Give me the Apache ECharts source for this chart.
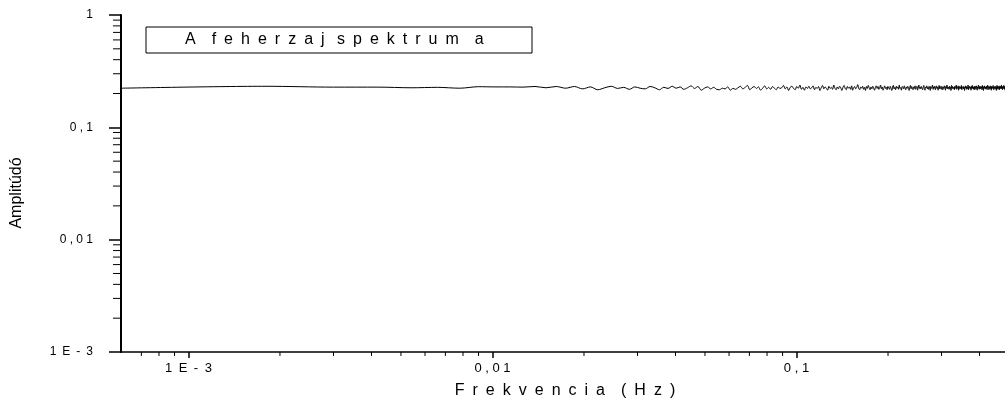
<!DOCTYPE html>
<html>
<head>
<meta charset="utf-8">
<script src="https://cdn.jsdelivr.net/npm/echarts@6/dist/echarts.min.js"></script>
<style>
  html, body { margin: 0; padding: 0; background: #fff; }
  #chart { width: 1005px; height: 407px; }
</style>
</head>
<body>
<div id="chart"></div>
<script>
// Amplitude spectrum of white noise, sampled on a uniform frequency grid.
const FREQ_STEP = 0.0012;   // spectral resolution, Hz (bin centres at (k + 0.5) * step)

const amplitudes = [
  0.223, 0.232, 0.228, 0.228, 0.225, 0.227, 0.223, 0.230, 0.229, 0.229, 0.228, 0.231, 0.225, 0.231,
  0.223, 0.231, 0.220, 0.229, 0.216, 0.225, 0.232, 0.222, 0.227, 0.218, 0.229, 0.223, 0.220, 0.231, 0.225, 0.216, 0.227, 0.222, 0.232, 0.223,
  0.229, 0.218, 0.225, 0.234, 0.222, 0.231, 0.214, 0.223, 0.229, 0.220, 0.227, 0.218, 0.216, 0.223, 0.220, 0.229, 0.214, 0.222, 0.218, 0.225,
  0.232, 0.220, 0.227, 0.236, 0.216, 0.225, 0.231, 0.222, 0.229, 0.214, 0.223, 0.234, 0.220, 0.227, 0.218, 0.231, 0.223, 0.216, 0.229, 0.222,
  0.225, 0.236, 0.220, 0.229, 0.213, 0.227, 0.232, 0.222, 0.216, 0.231, 0.223, 0.238, 0.218, 0.227, 0.214, 0.229, 0.222, 0.232, 0.220, 0.225,
  0.234, 0.216, 0.227, 0.222, 0.231, 0.213, 0.225, 0.236, 0.220, 0.229, 0.223, 0.214, 0.232, 0.222, 0.227, 0.218, 0.238, 0.223, 0.216, 0.229,
  0.220, 0.232, 0.225, 0.213, 0.227, 0.236, 0.222, 0.216, 0.231, 0.223, 0.229, 0.218, 0.234, 0.214, 0.225, 0.231, 0.220, 0.227, 0.240, 0.222,
  0.216, 0.229, 0.223, 0.232, 0.218, 0.227, 0.213, 0.231, 0.222, 0.236, 0.225, 0.216, 0.229, 0.220, 0.232, 0.223, 0.214, 0.227, 0.234, 0.222,
  0.231, 0.218, 0.225, 0.238, 0.220, 0.229, 0.214, 0.223, 0.234, 0.222, 0.227, 0.216, 0.231, 0.225, 0.218, 0.232, 0.223, 0.213, 0.229, 0.236,
  0.220, 0.227, 0.216, 0.232, 0.223, 0.229, 0.218, 0.238, 0.222, 0.225, 0.214, 0.231, 0.227, 0.220, 0.234, 0.223, 0.216, 0.229, 0.222, 0.232,
  0.225, 0.213, 0.227, 0.236, 0.220, 0.231, 0.223, 0.216, 0.229, 0.222, 0.234, 0.218, 0.227, 0.232, 0.214, 0.225, 0.238, 0.222, 0.229, 0.220,
  0.231, 0.223, 0.216, 0.227, 0.236, 0.222, 0.214, 0.229, 0.225, 0.234, 0.220, 0.227, 0.218, 0.232, 0.223, 0.213, 0.231, 0.222, 0.227, 0.238,
  0.218, 0.229, 0.223, 0.232, 0.216, 0.225, 0.234, 0.222, 0.229, 0.214, 0.227, 0.236, 0.220, 0.231, 0.223, 0.218, 0.232, 0.225, 0.216, 0.229,
  0.222, 0.234, 0.227, 0.214, 0.231, 0.223, 0.238, 0.220, 0.225, 0.229, 0.218, 0.232, 0.222, 0.227, 0.213, 0.236, 0.223, 0.231, 0.220, 0.229,
  0.225, 0.216, 0.232, 0.222, 0.229, 0.238, 0.218, 0.227, 0.223, 0.234, 0.214, 0.225, 0.231, 0.220, 0.229, 0.222, 0.236, 0.216, 0.227, 0.223,
  0.232, 0.220, 0.229, 0.213, 0.225, 0.234, 0.223, 0.231, 0.218, 0.227, 0.222, 0.238, 0.216, 0.229, 0.225, 0.232, 0.220, 0.227, 0.214, 0.231,
  0.223, 0.236, 0.222, 0.229, 0.218, 0.227, 0.232, 0.216, 0.225, 0.231, 0.220, 0.234, 0.223, 0.214, 0.229, 0.222, 0.238, 0.227, 0.218, 0.231,
  0.225, 0.220, 0.232, 0.223, 0.229, 0.216, 0.236, 0.222, 0.227, 0.213, 0.231, 0.225, 0.234, 0.220, 0.229, 0.223, 0.218, 0.232, 0.222, 0.227,
  0.238, 0.216, 0.225, 0.231, 0.222, 0.229, 0.218, 0.234, 0.223, 0.227, 0.214, 0.232, 0.220, 0.229, 0.225, 0.236, 0.222, 0.216, 0.231, 0.223,
  0.227, 0.220, 0.232, 0.225, 0.213, 0.229, 0.236, 0.222, 0.231, 0.218, 0.227, 0.223, 0.234, 0.216, 0.229, 0.222, 0.232, 0.225, 0.220, 0.238,
  0.223, 0.229, 0.216, 0.231, 0.222, 0.227, 0.236, 0.220, 0.225, 0.232, 0.214, 0.229, 0.223, 0.234, 0.218, 0.227, 0.222, 0.231, 0.225, 0.220,
  0.232, 0.223, 0.229
];

// Axis ranges
const X_MIN = 0.0006, X_MAX = 0.5;
const Y_MIN = 0.001, Y_MAX = 1;

// Decade labels, indexed by exponent + 3
const xTickLabels = ['1\u2002E\u2002-\u20023', '0 , 0 1', '0 , 1'];
const yTickLabels = ['1\u2002E\u2002-\u20023', '0 , 0 1', '0 , 1', '1'];

// Minor (2..9) tick values on each axis
const xMinorTicks = [0.0007, 0.0008, 0.0009,
  0.002, 0.003, 0.004, 0.005, 0.006, 0.007, 0.008, 0.009,
  0.02, 0.03, 0.04, 0.05, 0.06, 0.07, 0.08, 0.09,
  0.2, 0.3, 0.4];
const yMinorTicks = [0.002, 0.003, 0.004, 0.005, 0.006, 0.007, 0.008, 0.009,
  0.02, 0.03, 0.04, 0.05, 0.06, 0.07, 0.08, 0.09,
  0.2, 0.3, 0.4, 0.5, 0.6, 0.7, 0.8, 0.9];

const seriesName = 'A feherzaj spektruma';
const legendText = 'A\u2002\u2002f\u2002e\u2002h\u2002e\u2002r\u2002z\u2002a\u2002j\u2002 s\u2002p\u2002e\u2002k\u2002t\u2002r\u2002u\u2002m\u2002\u2002a';
const xAxisTitle = 'F\u2002r\u2002e\u2002k\u2002v\u2002e\u2002n\u2002c\u2002i\u2002a\u2002\u2002(\u2002H\u2002z\u2002)';
const yAxisTitle = 'Amplitúdó';

const FONT = '"Liberation Sans", Arial, sans-serif';

const spectrum = amplitudes.map((a, k) => [(k + 0.5) * FREQ_STEP, a]);

function decadeLabel(labels) {
  return function (v) {
    const e = Math.log10(v);
    const r = Math.round(e);
    if (Math.abs(e - r) > 1e-6) return '';
    return labels[r + 3] || '';
  };
}

function minorTickRenderer(dir, len) {
  return function (params, api) {
    const p = api.coord([api.value(0), api.value(1)]);
    const shape = dir === 'x'
      ? { x1: p[0], y1: p[1], x2: p[0], y2: p[1] + len }
      : { x1: p[0], y1: p[1], x2: p[0] - len, y2: p[1] };
    return { type: 'line', shape: shape, style: { stroke: '#000', lineWidth: 1 }, silent: true };
  };
}

const chart = echarts.init(document.getElementById('chart'), null, { renderer: 'canvas' });

chart.setOption({
  animation: false,
  backgroundColor: '#fff',
  textStyle: { fontFamily: FONT, color: '#000' },
  grid: { left: 121, top: 15, width: 888, height: 337, outerBoundsMode: 'none', containLabel: false },
  legend: {
    data: [{ name: seriesName, icon: 'none' }],
    left: 146, top: 27,
    itemWidth: 0, itemHeight: 14, itemGap: 0,
    padding: [5, 7, 5, 34],
    borderColor: '#000', borderWidth: 1,
    selectedMode: false,
    formatter: () => legendText,
    textStyle: { fontFamily: FONT, fontSize: 16, color: '#000', width: 340, lineHeight: 16 }
  },
  xAxis: {
    type: 'log', logBase: 10, min: X_MIN, max: X_MAX,
    name: xAxisTitle, nameLocation: 'middle', nameGap: 31,
    nameTextStyle: { fontFamily: FONT, fontSize: 16, color: '#000' },
    axisLine: { lineStyle: { color: '#000', width: 1.5 } },
    axisTick: { inside: false, length: 6, customValues: [0.001, 0.01, 0.1], lineStyle: { color: '#000', width: 1.5 } },
    axisLabel: { margin: 10, fontFamily: FONT, fontSize: 13, color: '#000', customValues: [0.001, 0.01, 0.1], formatter: decadeLabel(xTickLabels) },
    splitLine: { show: false },
    minorTick: { show: false }
  },
  yAxis: {
    type: 'log', logBase: 10, min: Y_MIN, max: Y_MAX,
    axisLine: { lineStyle: { color: '#000', width: 2 } },
    axisTick: { inside: false, length: 12, customValues: [0.001, 0.01, 0.1, 1], lineStyle: { color: '#000', width: 1.5 } },
    axisLabel: { margin: 28, fontFamily: FONT, fontSize: 12, color: '#000', customValues: [0.001, 0.01, 0.1, 1], formatter: decadeLabel(yTickLabels) },
    splitLine: { show: false },
    minorTick: { show: false }
  },
  graphic: [{
    type: 'text',
    x: 17, y: 193,
    rotation: Math.PI / 2,
    style: { text: yAxisTitle, font: '16px ' + FONT, fill: '#000', align: 'center', verticalAlign: 'middle' },
    silent: true
  }],
  series: [
    {
      name: seriesName,
      type: 'line',
      data: spectrum,
      showSymbol: false,
      smooth: 0.3,
      sampling: null,
      clip: true,
      lineStyle: { color: '#000', width: 1 },
      itemStyle: { color: '#000' },
      silent: true,
      z: 3
    },
    {
      name: 'x minor ticks',
      type: 'custom',
      data: xMinorTicks.map(v => [v, Y_MIN]),
      renderItem: minorTickRenderer('x', 4),
      clip: false,
      silent: true,
      z: 4
    },
    {
      name: 'y minor ticks',
      type: 'custom',
      data: yMinorTicks.map(v => [X_MIN, v]),
      renderItem: minorTickRenderer('y', 8),
      clip: false,
      silent: true,
      z: 4
    }
  ]
});
</script>
</body>
</html>
